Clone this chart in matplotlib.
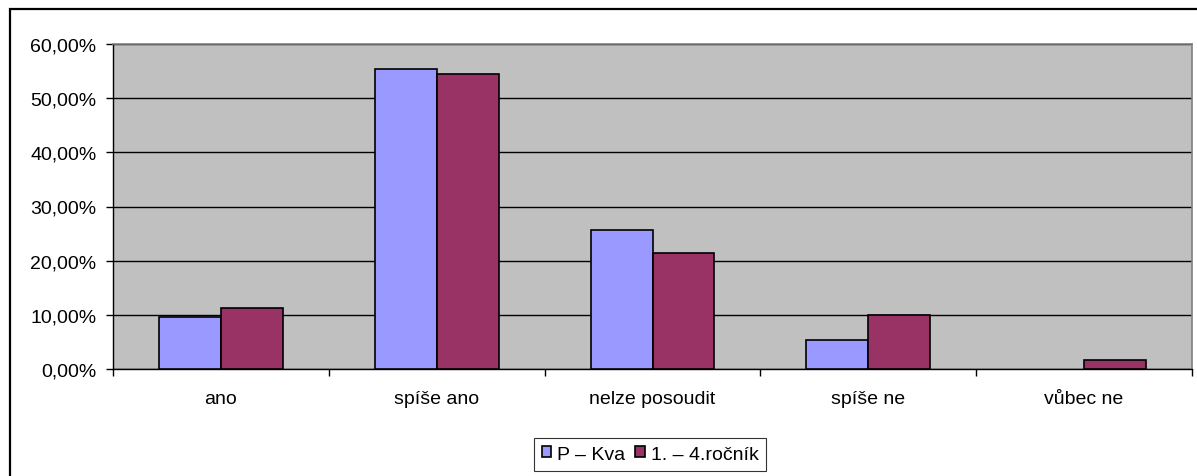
import matplotlib.pyplot as plt
import numpy as np
from matplotlib.patches import Rectangle
from matplotlib.ticker import FuncFormatter

# data
kategorie = ['ano', 'spíše ano', 'nelze posoudit', 'spíše ne', 'vůbec ne']
p_kva = [9.68, 55.35, 25.65, 5.3, 0.0]
rocnik = [11.25, 54.4, 21.4, 9.96, 1.65]
serie_nazvy = ['P – Kva', '1. – 4.ročník']

plt.rcParams['font.family'] = ['Liberation Sans', 'DejaVu Sans']
fs = 14

fig = plt.figure(figsize=(11.97, 4.77), dpi=100)
W, H = 1197, 477

# outer chart border (Excel style)
fig.patches.append(Rectangle((9.5 / W, -0.1), 1.2, 1 - 9.5 / H + 0.1,
                             transform=fig.transFigure, fill=False,
                             edgecolor='black', linewidth=1.6))

ax = fig.add_axes([113 / W, 1 - 370 / H, (1192 - 113) / W, (370 - 45) / H])
ax.set_facecolor('#C0C0C0')

x = np.arange(len(kategorie))
w = 0.287
b1 = ax.bar(x - w / 2, p_kva, w, color='#9999FF', edgecolor='black', linewidth=1.2,
            label=serie_nazvy[0], zorder=3)
b2 = ax.bar(x + w / 2, rocnik, w, color='#993366', edgecolor='black', linewidth=1.2,
            label=serie_nazvy[1], zorder=3)
# Excel nekresli sloupec s nulovou hodnotou
for bars in (b1, b2):
    for p in bars.patches:
        if p.get_height() == 0:
            p.set_visible(False)

ax.set_xlim(-0.5, len(kategorie) - 0.5)
ax.set_ylim(0, 60)
ax.set_yticks(np.arange(0, 61, 10))
ax.yaxis.set_major_formatter(FuncFormatter(lambda v, p: f'{v:.2f}%'.replace('.', ',')))
ax.yaxis.grid(True, color='black', linewidth=1.0, zorder=1)
ax.set_axisbelow(True)

# category labels between boundary ticks
ax.set_xticks(np.arange(-0.5, len(kategorie), 1.0))
ax.set_xticklabels([])
ax.set_xticks(x, minor=True)
ax.set_xticklabels(kategorie, minor=True, fontsize=fs)
ax.tick_params(axis='x', which='minor', length=0, pad=15)
ax.tick_params(axis='x', which='major', length=5, direction='out', width=1)
ax.tick_params(axis='y', length=5, width=1, labelsize=fs, pad=7)

for s in ['top', 'right']:
    ax.spines[s].set_color('#808080')
    ax.spines[s].set_linewidth(1.2)
for s in ['left', 'bottom']:
    ax.spines[s].set_color('black')
    ax.spines[s].set_linewidth(1.0)

leg = fig.legend(loc='upper center', bbox_to_anchor=(650 / W, 1 - 439 / H),
                 ncol=2, fontsize=fs, frameon=True, fancybox=False,
                 handlelength=0.5, handleheight=0.5, handletextpad=0.3,
                 columnspacing=0.5, borderpad=0.4, borderaxespad=0)
leg.get_frame().set_edgecolor('black')
leg.get_frame().set_linewidth(0.8)

fig.savefig('out.png', dpi=100)
